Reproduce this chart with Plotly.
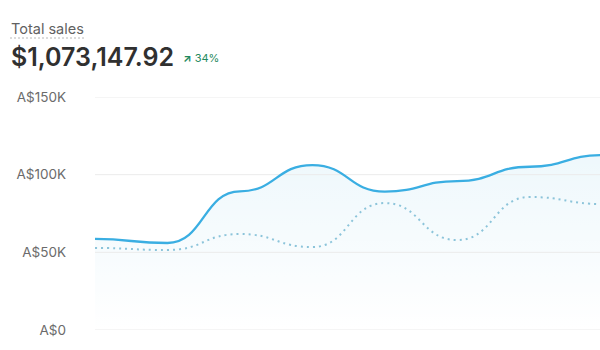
import plotly.graph_objects as go

# Data
x_idx = [0, 1, 2, 3, 4, 5, 6, 7]
current_sales = [58600, 56000, 89300, 106200, 89100, 95900, 105100, 112600]
previous_sales = [52800, 51500, 61800, 53400, 81700, 57900, 85600, 81100]
y_tickvals = [0, 50000, 100000, 150000]
y_ticktext = ["A$0", "A$50K", "A$100K", "A$150K"]
title_text = "Total sales"
total_text = "$1,073,147.92"
change_text = "34%"

W, H = 600, 350
L, R, T, B = 95, 0, 97, 20
pw, ph = W - L - R, H - T - B
x_range = [0, 6.97]
fade_top = 115000


def px(xp):
    return (xp - L) / pw


def py(yp):
    return (H - B - yp) / ph


def bump_path(xs, ys):
    """Horizontal-tangent bezier path (bump curve) in data coordinates."""
    p = f"M {xs[0]},{ys[0]}"
    for i in range(1, len(xs)):
        xm = (xs[i - 1] + xs[i]) / 2
        p += f" C {xm},{ys[i - 1]} {xm},{ys[i]} {xs[i]},{ys[i]}"
    return p


line_cur = bump_path(x_idx, current_sales)
line_prev = bump_path(x_idx, previous_sales)
fill_cur = line_cur + f" L {x_idx[-1]},0 L {x_idx[0]},0 Z"

fig = go.Figure()
# white fade overlay that makes the area fill vanish towards the baseline
fig.add_trace(go.Scatter(
    x=[x_idx[0], x_idx[-1]], y=[fade_top, fade_top], mode="lines",
    line=dict(color="rgba(0,0,0,0)", width=0), fill="tozeroy",
    fillgradient=dict(type="vertical", start=0, stop=fade_top,
                      colorscale=[[0, "rgba(255,255,255,1)"], [1, "rgba(255,255,255,0)"]]),
    hoverinfo="skip", showlegend=False))
# invisible traces carrying the data
fig.add_trace(go.Scatter(x=x_idx, y=current_sales, mode="lines",
                         line=dict(color="rgba(0,0,0,0)", width=0),
                         hoverinfo="skip", showlegend=False))
fig.add_trace(go.Scatter(x=x_idx, y=previous_sales, mode="lines",
                         line=dict(color="rgba(0,0,0,0)", width=0),
                         hoverinfo="skip", showlegend=False))

shapes = [
    dict(type="path", xref="x", yref="y", path=fill_cur, layer="between",
         fillcolor="rgba(58,174,226,0.085)", line=dict(width=0)),
]
for v in y_tickvals:
    shapes.append(dict(type="line", xref="paper", yref="y", x0=0, x1=1, y0=v, y1=v,
                       layer="above", line=dict(color="#ebebeb", width=1)))
shapes += [
    dict(type="path", xref="x", yref="y", path=line_prev, layer="above",
         line=dict(color="#8cc4da", width=2, dash="2px,4px")),
    dict(type="path", xref="x", yref="y", path=line_cur, layer="above",
         line=dict(color="#3aaee2", width=2.3)),
    dict(type="line", xref="paper", yref="paper", x0=px(10), x1=px(86),
         y0=py(38), y1=py(38), line=dict(color="#b8b8b8", width=1, dash="2px,2px")),
]

fig.update_layout(
    width=W, height=H,
    margin=dict(l=L, r=R, t=T, b=B),
    paper_bgcolor="white", plot_bgcolor="white",
    font=dict(family="Inter", color="#616161"),
    xaxis=dict(range=x_range, showgrid=False, zeroline=False, showticklabels=False,
               showline=False, fixedrange=True),
    yaxis=dict(range=[0, 150000], tickvals=y_tickvals, ticktext=y_ticktext,
               showgrid=False, zeroline=False,
               showline=False, ticks="", ticklabelstandoff=28,
               tickfont=dict(family="Inter", size=13.5, color="#6b6b6b")),
    annotations=[
        dict(text=title_text, xref="paper", yref="paper", x=px(9), y=py(28),
             xanchor="left", yanchor="middle", showarrow=False,
             font=dict(family="Inter", size=14.5, color="#616161")),
        dict(text=total_text, xref="paper", yref="paper", x=px(9), y=py(57),
             xanchor="left", yanchor="middle", showarrow=False,
             font=dict(family="Inter", size=25, color="#303030", weight=600)),
        dict(text="<b>↗</b> " + change_text, xref="paper", yref="paper", x=px(181), y=py(58),
             xanchor="left", yanchor="middle", showarrow=False,
             font=dict(family="Inter", size=11, color="#1f8a5e")),
    ],
    shapes=shapes,
)

fig.write_html("out.html")
